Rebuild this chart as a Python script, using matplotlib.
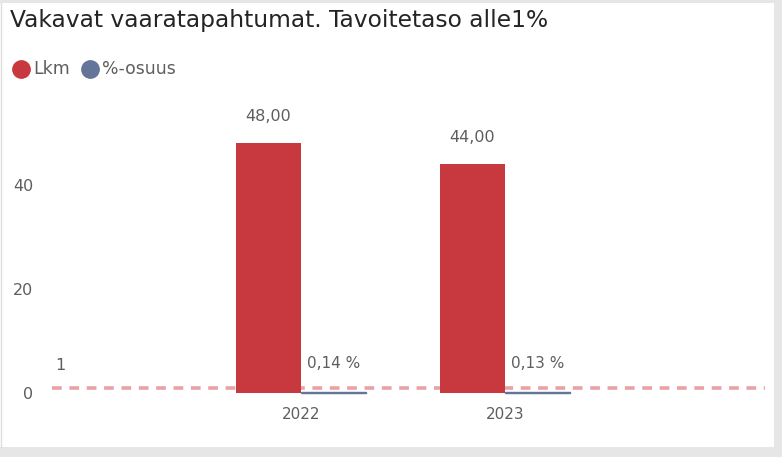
import matplotlib
matplotlib.use("Agg")
import matplotlib.pyplot as plt
from matplotlib.lines import Line2D
from matplotlib.patches import Rectangle

# ---- data ----
categories = ["2022", "2023"]
lkm = [48.0, 44.0]
osuus_pct = [0.14, 0.13]
target = 1
yticks = [0, 20, 40]
title = "Vakavat vaaratapahtumat. Tavoitetaso alle1%"
legend_labels = ["Lkm", "%-osuus"]

RED = "#c8393f"
BLUE = "#64759a"
DASH = "#e8a2a6"
GRAY = "#605e5c"
FONT = "DejaVu Sans"

W, H = 782, 457
fig = plt.figure(figsize=(W / 100, H / 100), dpi=100)
fig.patch.set_facecolor("#e6e6e6")
fig.add_artist(Rectangle((0 / W, 1 - 447 / H), 774 / W, 444 / H,
                         transform=fig.transFigure, facecolor="white",
                         edgecolor="none", zorder=0))
fig.add_artist(Line2D([1 / W, 1 / W], [1 - 447 / H, 1 - 3 / H],
                      transform=fig.transFigure, color="#dddddd", lw=1))

def fx(px):
    return px / W

def fy(py):
    return 1 - py / H

# axes: x from 52 to 765 px, y from 100 to 393 px
ax_l, ax_r, ax_t, ax_b = 52, 765, 100, 393
ax = fig.add_axes([fx(ax_l), fy(ax_b), (ax_r - ax_l) / W, (ax_b - ax_t) / H])
ax.set_facecolor("none")
px_per_x = 204.0
px_per_y = 5.2
x0 = (ax_l - 301) / px_per_x
ax.set_xlim(x0, x0 + (ax_r - ax_l) / px_per_x)
ax.set_ylim(0, (ax_b - ax_t) / px_per_y)

xs = list(range(len(categories)))
bw = 65 / px_per_x

# target line
plt.rcParams["lines.scale_dashes"] = False
ax.axhline(target, color=DASH, lw=2.6, dashes=(7.0, 5.5), zorder=1, clip_on=False)
ax.text(x0 + 8 / px_per_x, target + 15 / px_per_y, str(target), ha="center",
        va="bottom", fontsize=11.5, color=GRAY, family=FONT)

b1 = ax.bar([x - bw / 2 for x in xs], lkm, width=bw, color=RED, zorder=2, clip_on=False)
b2 = ax.bar([x + bw / 2 for x in xs], osuus_pct, width=bw, color=BLUE,
            edgecolor=BLUE, lw=1.0, zorder=2, clip_on=False)

for x, v in zip(xs, lkm):
    ax.text(x - bw / 2, v + 19 / px_per_y, f"{v:.2f}".replace(".", ","),
            ha="center", va="bottom", fontsize=11.5, color=GRAY, family=FONT)
for x, v in zip(xs, osuus_pct):
    ax.text(x + bw / 2, v + 21 / px_per_y, f"{v:.2f}".replace(".", ",") + " %",
            ha="center", va="bottom", fontsize=11, color=GRAY, family=FONT)

ax.set_xticks(xs)
ax.set_xticklabels(categories)
ax.set_yticks(yticks)
for s in ax.spines.values():
    s.set_visible(False)
ax.tick_params(axis="both", length=0, labelcolor=GRAY)
ax.tick_params(axis="y", pad=13.5, labelsize=11.5)
ax.tick_params(axis="x", pad=10, labelsize=11)
for lab in ax.get_xticklabels() + ax.get_yticklabels():
    lab.set_family(FONT)

# title
fig.text(fx(10), fy(20), title, ha="left", va="center", fontsize=16.8,
         color="#252423", family=FONT)

# legend
for cx, tx, lab, col in [(21, 33, legend_labels[0], RED), (90, 102, legend_labels[1], BLUE)]:
    fig.add_artist(Line2D([fx(cx)], [fy(68.5)], marker="o", markersize=12.5,
                          color=col, transform=fig.transFigure, lw=0))
    fig.text(fx(tx), fy(68.5), lab, ha="left", va="center", fontsize=12.4,
             color=GRAY, family=FONT)

fig.savefig("out.png", dpi=100, facecolor=fig.get_facecolor())
